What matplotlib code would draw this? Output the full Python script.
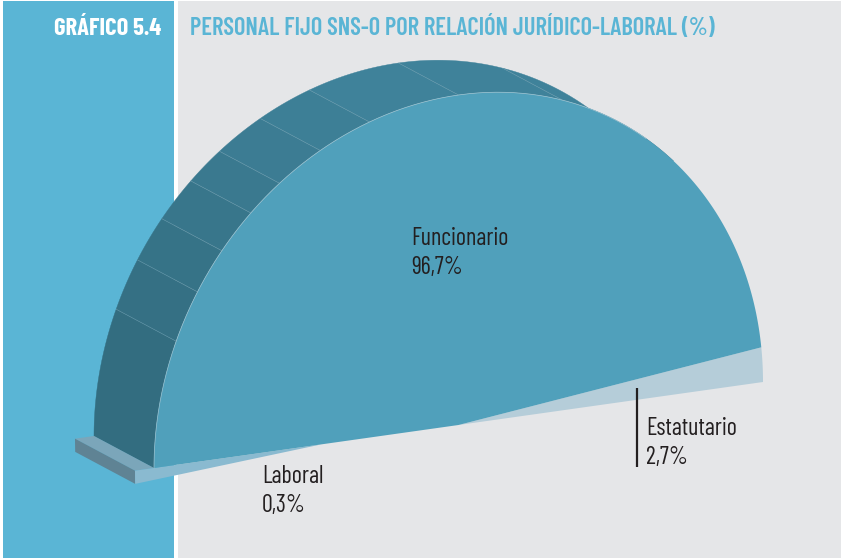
import numpy as np
import matplotlib
matplotlib.use("Agg")
import matplotlib.pyplot as plt
from matplotlib.patches import Polygon, Rectangle
from matplotlib.colors import to_rgb

# data
categories = ["Funcionario", "Estatutario", "Laboral"]
values = [96.7, 2.7, 0.3]
value_labels = ["96,7%", "2,7%", "0,3%"]
header = "GRÁFICO 5.4"
title = "PERSONAL FIJO SNS-O POR RELACIÓN JURÍDICO-LABORAL (%)"

# colours
BLUE = "#5ab5d5"
GREY = "#e5e6e8"
FACE = "#50a0bb"
EST = "#b5cdd9"
LAB = "#8abad0"
SLAB_TOP = "#7ba6ba"
SLAB_SIDE = "#5f8394"
BAND_LOW = "#336d80"
BAND_HIGH = "#3f829a"
TEXT = "#231f20"
FONT = ["Barlow Condensed", "Roboto Condensed", "Liberation Sans Narrow", "Liberation Sans"]

# half pie seen in perspective: pixels of the centre and of the two semi axes
CENTRE = np.array([458.5, 425.0])
AXIS_U = np.array([304.5, -43.0])
AXIS_V = np.array([0.0, -330.0])
DEPTH = np.array([-60.0, -32.0])
LAB_RADIUS = 1.0625
# the small slices are drawn wider than scale, as in the original
EST_ZOOM = 1.25
LAB_ZOOM = 4
LAB_TIP = 0.45
FACETS = [158, 149, 141, 133, 126, 117, 107, 90, 70, 45]


def project(theta, r=1.0, back=False):
    t = np.radians(np.atleast_1d(theta).astype(float))
    pts = CENTRE + r * (np.outer(np.cos(t), AXIS_U) + np.outer(np.sin(t), AXIS_V))
    return pts + DEPTH if back else pts


# the half circle is 100%
sweep = [v / 100 * 180 for v in values]
est_end = sweep[1] * EST_ZOOM

fig = plt.figure(figsize=(8.43, 5.60), dpi=100)
ax = fig.add_axes([0, 0, 1, 1])
ax.set_xlim(0, 843)
ax.set_ylim(560, 0)
ax.axis("off")

ax.add_patch(Rectangle((3, 1), 171, 557, fc=BLUE, ec="none"))
ax.add_patch(Rectangle((178, 1), 663, 557, fc=GREY, ec="none"))

# curved band behind the face, one piece per facet
edges = [180] + FACETS
low, high = np.array(to_rgb(BAND_LOW)), np.array(to_rgb(BAND_HIGH))
for i in range(len(edges) - 1):
    th = np.linspace(edges[i], edges[i + 1], 30)
    pts = np.vstack([project(th, back=True), project(th[::-1])])
    k = min(i / 7, 1)
    ax.add_patch(Polygon(pts, fc=low + (high - low) * k, ec=low + (high - low) * k, lw=0.3, zorder=2))
    if i > 0:
        seg = np.vstack([project(edges[i], back=True), project(edges[i])])
        ax.plot(seg[:, 0], seg[:, 1], color="#7fa9b9", lw=0.4, alpha=0.7, zorder=3)

# slab under the laboral slice
bottom = 180 + sweep[2] * LAB_ZOOM
a = project(180)[0]
b = project(180, LAB_RADIUS)[0]
c = project(bottom, LAB_RADIUS)[0]
ax.add_patch(Polygon([b + DEPTH, a + DEPTH, a, b], fc=SLAB_TOP, ec="none", zorder=4))
ax.add_patch(Polygon([b + DEPTH, b, c, c + DEPTH], fc=SLAB_SIDE, ec="none", zorder=4))
ax.add_patch(Polygon([b, a, project(180, LAB_TIP)[0], c], fc=LAB, ec="none", zorder=4))

# estatutario slice
th = np.linspace(0, est_end, 10)
ax.add_patch(Polygon(np.vstack([CENTRE, project(th)]), fc=EST, ec="none", zorder=4))

# funcionario slice
th = np.linspace(est_end, 180, 200)
ax.add_patch(Polygon(np.vstack([CENTRE, project(th)]), fc=FACE, ec="none", zorder=5))
arc = project(np.linspace(52, 180, 150))
ax.plot(arc[:, 0], arc[:, 1], color="#9cc3d1", lw=0.5, zorder=6)

# leader line of estatutario
ax.plot([637, 637], [388, 467], color=TEXT, lw=1.6, solid_capstyle="butt", zorder=7)

# texts
ax.text(161, 35, header, color="white", family=FONT, weight="bold", fontsize=17.7,
        ha="right", va="baseline")
ax.text(190, 35, title, color=BLUE, family=FONT, weight="semibold", fontsize=17.7,
        ha="left", va="baseline")
label_x = [411, 646, 262]
label_y = [245, 435, 483]
for i in range(3):
    ax.text(label_x[i], label_y[i], categories[i], color=TEXT, family=FONT,
            fontsize=17.4, ha="left", va="baseline", zorder=8)
    ax.text(label_x[i], label_y[i] + 29, value_labels[i], color=TEXT, family=FONT,
            fontsize=17.4, ha="left", va="baseline", zorder=8)

fig.savefig("out.png", dpi=100)
